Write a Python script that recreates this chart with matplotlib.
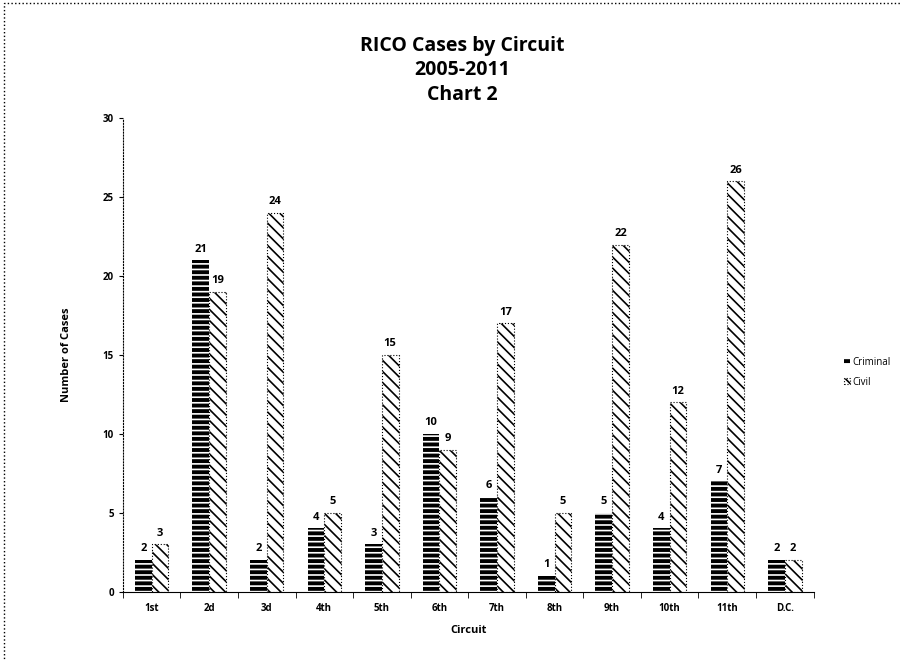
import matplotlib.pyplot as plt
import numpy as np

plt.rcParams['font.family'] = 'Open Sans'
plt.rcParams['hatch.linewidth'] = 1.2

# circuitos e numero de casos RICO (2005-2011)
circuitos = ['1st', '2d', '3d', '4th', '5th', '6th', '7th', '8th', '9th', '10th', '11th', 'D.C.']
criminal = [2, 21, 2, 4, 3, 10, 6, 1, 5, 4, 7, 2]
civil = [3, 19, 24, 5, 15, 9, 17, 5, 22, 12, 26, 2]

fig = plt.figure(figsize=(9.03, 6.61), dpi=100)
ax = fig.add_axes([0.136, 0.105, 0.765, 0.716])

x = np.arange(len(circuitos))
w = 0.29

b1 = ax.bar(x - w / 2, criminal, w, label='Criminal', color='black',
            edgecolor='white', hatch='---', linewidth=0)
b2 = ax.bar(x + w / 2, civil, w, label='Civil', color='white',
            edgecolor='black', hatch='\\\\\\', linewidth=0.8, linestyle=':')

# valores em cima das barras
for barras in (b1, b2):
    ax.bar_label(barras, padding=4, fontsize=8, fontweight='bold')

ax.set_xlim(-0.5, len(circuitos) - 0.5)
ax.set_ylim(0, 30)
ax.set_yticks(range(0, 31, 5))
ax.set_xticks(x)
ax.set_xticklabels(circuitos, fontsize=7, fontweight='bold')
ax.set_xticks(np.arange(-0.5, len(circuitos)), minor=True)
ax.tick_params(axis='x', which='major', length=0, pad=8)
ax.tick_params(axis='x', which='minor', length=4)
ax.tick_params(axis='y', labelsize=7, length=3)
for t in ax.get_yticklabels():
    t.set_fontweight('bold')

for lado in ('top', 'right'):
    ax.spines[lado].set_visible(False)
ax.spines['left'].set_linestyle(':')

ax.set_xlabel('Circuit', fontsize=8, fontweight='bold', labelpad=8)
ax.set_ylabel('Number of Cases', fontsize=8, fontweight='bold', labelpad=22)

fig.text(0.512, 0.894, 'RICO Cases by Circuit\n2005-2011\nChart 2', ha='center',
         va='center', fontsize=14, fontweight='bold', linespacing=1.3)

fig.legend(handles=[b1, b2], loc='center left', bbox_to_anchor=(0.925, 0.437),
           frameon=False, fontsize=7, handlelength=0.6, handleheight=0.6,
           handletextpad=0.3, labelspacing=0.9)

# moldura em volta do grafico
fig.patches.append(plt.Rectangle((0.004, -0.01), 1.2, 1.005, transform=fig.transFigure,
                                 fill=False, edgecolor='black', linewidth=1, linestyle=':'))

fig.savefig('out.png', dpi=100)
